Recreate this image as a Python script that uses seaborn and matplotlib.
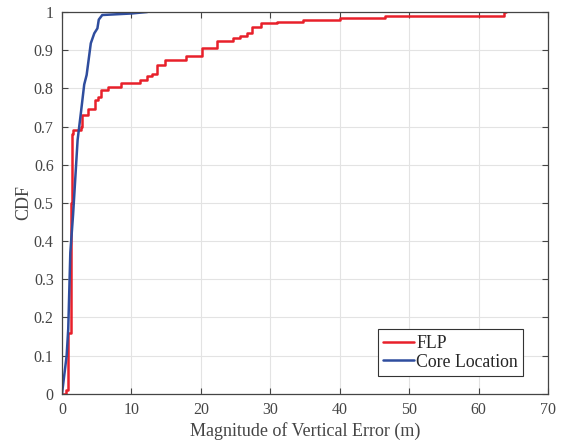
import matplotlib
matplotlib.use("Agg")
import matplotlib.pyplot as plt
import seaborn as sns
import pandas as pd

# FLP CDF (step points)
flp_x = [0.0, 0.6, 0.8, 1.25, 1.35, 1.45, 1.6, 2.7, 2.9, 3.8, 4.7, 5.2, 5.6, 6.6, 8.5,
         11.2, 12.3, 13.0, 13.7, 14.8, 17.8, 20.2, 22.3, 24.6, 25.6, 26.6, 27.3, 28.6,
         30.9, 34.7, 40.0, 46.5, 63.6, 64.0]
flp_y = [0.0, 0.01, 0.16, 0.30, 0.50, 0.68, 0.69, 0.70, 0.73, 0.745, 0.77, 0.778, 0.796,
         0.803, 0.813, 0.822, 0.832, 0.837, 0.86, 0.874, 0.885, 0.905, 0.925, 0.931, 0.937,
         0.944, 0.961, 0.97, 0.973, 0.98, 0.985, 0.99, 1.0, 1.0]

# Core Location CDF
core_x = [0.0, 0.67, 0.9, 1.2, 1.6, 2.25, 2.75, 3.2, 3.55, 4.15, 4.65, 5.1, 5.3, 5.8, 10.0, 12.3]
core_y = [0.0, 0.10, 0.17, 0.37, 0.47, 0.665, 0.74, 0.81, 0.835, 0.918, 0.944, 0.957, 0.98,
          0.992, 0.996, 1.0]

x_ticks = [0, 10, 20, 30, 40, 50, 60, 70]
y_ticks = [0, 0.1, 0.2, 0.3, 0.4, 0.5, 0.6, 0.7, 0.8, 0.9, 1]
y_tick_labels = ["0", "0.1", "0.2", "0.3", "0.4", "0.5", "0.6", "0.7", "0.8", "0.9", "1"]

sns.set_theme(style="whitegrid")
plt.rcParams['font.family'] = ['Liberation Serif', 'DejaVu Serif']

fig = plt.figure(figsize=(5.74, 4.43), dpi=100)
ax = fig.add_axes([0.108, 0.111, 0.8467, 0.862])

red = "#e8202a"
blue = "#2f4d9e"

df_flp = pd.DataFrame({"x": flp_x, "y": flp_y})
df_core = pd.DataFrame({"x": core_x, "y": core_y})

sns.lineplot(data=df_flp, x="x", y="y", ax=ax, color=red, linewidth=1.8,
             drawstyle="steps-post", label="FLP", estimator=None, sort=False)
sns.lineplot(data=df_core, x="x", y="y", ax=ax, color=blue, linewidth=1.8,
             label="Core Location", estimator=None, sort=False)

ax.set_xlim(0, 70)
ax.set_ylim(0, 1)
ax.set_xticks(x_ticks)
ax.set_yticks(y_ticks)
ax.set_yticklabels(y_tick_labels)
ax.set_facecolor("white")
ax.grid(True, color="#e3e3e3", linewidth=0.8)
for s in ax.spines.values():
    s.set_visible(True)
    s.set_color("#444444")
    s.set_linewidth(0.9)
ax.tick_params(direction="in", length=4, width=0.8, color="#444444",
               labelsize=11.5, labelcolor="#454545", top=True, right=True,
               bottom=True, left=True, pad=6)
ax.set_xlabel("Magnitude of Vertical Error (m)", fontsize=13, color="#454545", labelpad=3)
ax.set_ylabel("CDF", fontsize=13, color="#454545", labelpad=1)

leg = ax.legend(loc="lower right", bbox_to_anchor=(0.949, 0.047), fontsize=12.8,
                frameon=True, fancybox=False, handlelength=1.75, borderaxespad=0,
                borderpad=0.3, labelspacing=0.1, handletextpad=0.1)
leg.get_frame().set_edgecolor("#333333")
leg.get_frame().set_linewidth(0.8)
leg.get_frame().set_alpha(1)
for t in leg.get_texts():
    t.set_color("#262626")

fig.savefig("out.png", dpi=100, facecolor="white")
